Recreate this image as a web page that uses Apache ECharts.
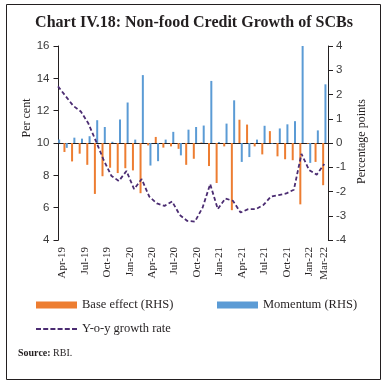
<!DOCTYPE html>
<html>
<head>
<meta charset="utf-8">
<script src="https://cdn.jsdelivr.net/npm/echarts@6/dist/echarts.min.js"></script>
<style>html,body{margin:0;padding:0;background:#fff;}#c{width:388px;height:385px;}</style>
</head>
<body>
<div id="c"></div>
<script>
var categories = ['Apr-19','May-19','Jun-19','Jul-19','Aug-19','Sep-19','Oct-19','Nov-19','Dec-19','Jan-20','Feb-20','Mar-20',
  'Apr-20','May-20','Jun-20','Jul-20','Aug-20','Sep-20','Oct-20','Nov-20','Dec-20','Jan-21','Feb-21','Mar-21',
  'Apr-21','May-21','Jun-21','Jul-21','Aug-21','Sep-21','Oct-21','Nov-21','Dec-21','Jan-22','Feb-22','Mar-22'];
var baseEffect = [0, -0.37, -0.76, -0.44, -0.9, -2.1, -1.37, -1.02, -1.24, -1.04, -1.13, -2.07,
  -0.1, 0.25, -0.19, -0.14, -0.24, -0.9, -0.65, 0.02, -0.95, -1.65, -0.14, -2.77,
  0.96, 0.76, -0.14, -0.47, 0.49, -0.55, -0.67, -0.71, -2.53, -0.03, -0.78, -1.74];
var momentum = [0.14, -0.2, 0.22, 0.18, 0.28, 0.94, 0.66, 0.05, 0.97, 1.67, 0.14, 2.8,
  -0.93, -0.75, 0.14, 0.46, -0.51, 0.55, 0.66, 0.72, 2.56, 0.04, 0.8, 1.76,
  -0.78, -0.58, 0.14, 0.71, -0.03, 0.6, 0.77, 0.9, 4.0, -0.82, 0.52, 2.42];
var yoyGrowth = [13.5, 12.9, 12.3, 11.95, 11.2, 10.1, 8.95, 7.98, 7.65, 8.27, 7.15, 7.77,
  6.68, 6.26, 6.11, 6.38, 5.55, 5.18, 5.14, 6.0, 7.46, 5.91, 6.57, 6.42,
  5.7, 5.91, 5.91, 6.17, 6.69, 6.78, 6.88, 7.11, 9.33, 8.33, 8.04, 8.7];
var leftAxis = {min: 4, max: 16, step: 2};
var rightAxis = {min: -4, max: 4, step: 1};

var ink = '#231F20';
var serif = 'Liberation Serif';
var lineColor = '#4B2C72';
var chart = echarts.init(document.getElementById('c'), null, {renderer: 'canvas'});
var plotTop = 46, plotBottom = 385 - 240;

// dashed legend icon: six short dashes
var dashIcon = 'path://';
for (var d = 0; d < 6; d++) {
  dashIcon += 'M' + (d * 7.2) + ',0h5v2h-5z';
}

chart.setOption({
  animation: false,
  backgroundColor: '#fff',
  title: {
    text: 'Chart IV.18: Non-food Credit Growth of SCBs',
    left: 'center', top: 10,
    textStyle: {fontFamily: serif, fontWeight: 'bold', fontSize: 16, color: ink}
  },
  grid: [
    {left: 58.5, right: 60, top: plotTop, bottom: plotBottom},
    {left: 58, width: 266.3, top: plotTop, bottom: plotBottom}
  ],
  xAxis: [
    {
      type: 'category', gridIndex: 0, data: categories, boundaryGap: true,
      axisLine: {lineStyle: {color: ink, width: 1}},
      axisTick: {interval: 0, length: 4, lineStyle: {color: ink}},
      axisLabel: {
        interval: function (i) { return i % 3 === 0 || i === categories.length - 1; },
        rotate: 90, margin: 7, fontFamily: serif, fontSize: 11, color: ink
      },
      splitLine: {show: false}
    },
    {
      type: 'category', gridIndex: 1, data: categories, boundaryGap: false, show: false
    }
  ],
  yAxis: [
    {
      type: 'value', gridIndex: 0, position: 'left',
      min: leftAxis.min, max: leftAxis.max, interval: leftAxis.step,
      axisLine: {show: true, lineStyle: {color: ink}},
      axisTick: {show: true, length: 5, lineStyle: {color: ink}},
      axisLabel: {margin: 9, fontFamily: 'Liberation Sans', fontSize: 11.5, color: '#3a3a3a'},
      splitLine: {show: false}
    },
    {
      type: 'value', gridIndex: 0, position: 'right',
      min: rightAxis.min, max: rightAxis.max, interval: rightAxis.step,
      axisLine: {show: true, lineStyle: {color: ink}},
      axisTick: {show: true, length: 5, lineStyle: {color: ink}},
      axisLabel: {margin: 8, fontFamily: 'Liberation Sans', fontSize: 11.5, color: '#3a3a3a'},
      splitLine: {show: false}
    },
    {type: 'value', gridIndex: 1, min: leftAxis.min, max: leftAxis.max, show: false, splitLine: {show: false}},
    {type: 'value', gridIndex: 1, min: rightAxis.min, max: rightAxis.max, show: false, splitLine: {show: false}}
  ],
  legend: [
    {
      data: ['Base effect (RHS)'], left: 36, top: 298.5, icon: 'rect', padding: 0,
      itemWidth: 41, itemHeight: 7,
      textStyle: {fontFamily: serif, fontSize: 12.5, color: ink}
    },
    {
      data: ['Momentum (RHS)'], left: 217, top: 298.5, icon: 'rect', padding: 0,
      itemWidth: 41, itemHeight: 7,
      textStyle: {fontFamily: serif, fontSize: 12.5, color: ink}
    },
    {
      data: [{name: 'Y-o-y growth rate', icon: dashIcon}], left: 36, top: 322.5, padding: 0,
      itemWidth: 41, itemHeight: 2,
      itemStyle: {color: lineColor},
      textStyle: {fontFamily: serif, fontSize: 12.5, color: ink}
    }
  ],
  series: [
    {
      name: 'Base effect (RHS)', type: 'bar', xAxisIndex: 1, yAxisIndex: 3,
      data: baseEffect, barWidth: 2, barGap: '15%', clip: false,
      itemStyle: {color: '#ED7D31'}
    },
    {
      name: 'Momentum (RHS)', type: 'bar', xAxisIndex: 1, yAxisIndex: 3,
      data: momentum, barWidth: 2, barGap: '15%', clip: false,
      itemStyle: {color: '#5B9BD5'}
    },
    {
      name: 'Y-o-y growth rate', type: 'line', xAxisIndex: 1, yAxisIndex: 2,
      data: yoyGrowth, symbol: 'none', smooth: false, z: 5,
      lineStyle: {color: lineColor, width: 1.8, type: [4, 2.5]},
      itemStyle: {color: lineColor}
    }
  ],
  graphic: [
    {
      type: 'rect', silent: true, z: 100,
      shape: {x: 6.5, y: 4.5, width: 374, height: 375},
      style: {fill: 'none', stroke: ink, lineWidth: 1}
    },
    {
      type: 'text', x: 27, y: 118, rotation: Math.PI / 2,
      style: {text: 'Per cent', font: '12px "Liberation Serif"', fill: ink, align: 'center', verticalAlign: 'middle'}
    },
    {
      type: 'text', x: 362, y: 141.5, rotation: Math.PI / 2,
      style: {text: 'Percentage points', font: '12px "Liberation Serif"', fill: ink, align: 'center', verticalAlign: 'middle'}
    },
    {
      type: 'text', x: 18, y: 353,
      style: {
        text: '{b|Source:} RBI.',
        rich: {b: {fontWeight: 'bold', fontFamily: serif, fontSize: 10, fill: ink}},
        font: '10px "Liberation Serif"', fill: ink, verticalAlign: 'middle'
      }
    }
  ]
});
</script>
</body>
</html>
